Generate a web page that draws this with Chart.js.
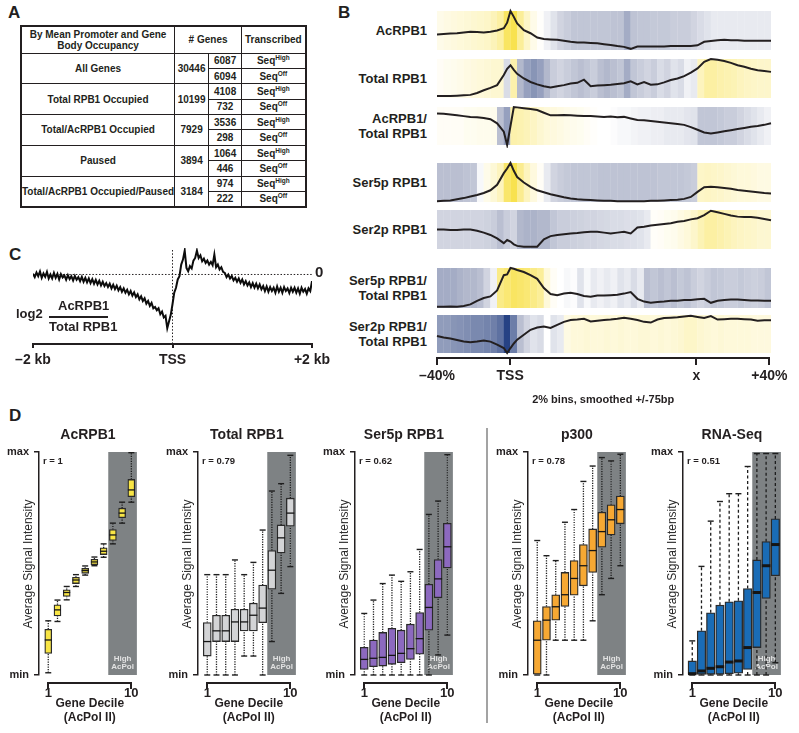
<!DOCTYPE html>
<html lang="en">
<head>
<meta charset="UTF-8">
<title>AcRPB1 / Pol II profiles</title>
<script src="https://cdn.jsdelivr.net/npm/chart.js@4.4.0/dist/chart.umd.min.js"></script>
<style>
  * { box-sizing: border-box; }
  body {
    margin: 0; width: 799px; height: 733px; position: relative; overflow: hidden;
    background: #fff; color: #231f20;
    font-family: "Liberation Sans", Arial, Helvetica, sans-serif; font-weight: bold;
  }
  .txt { position: absolute; white-space: nowrap; line-height: 1.15; }
  .rule { position: absolute; background: #231f20; z-index: 10; }
  .letter { position: absolute; font-size: 17px; }
  canvas { position: absolute; }

  /* ---- panel A table ---- */
  #tbl { position: absolute; left: 20px; top: 25px; border-collapse: collapse; font-size: 10px;
         border: 2px solid #231f20; }
  #tbl th, #tbl td { border: 1.5px solid #231f20; padding: 0; text-align: center;
                     font-weight: bold; white-space: nowrap; line-height: 1.1; }
  #tbl tr.head { height: 27px; }
  #tbl tr.sub { height: 15.4px; }
  #tbl sup { font-size: 6.5px; vertical-align: 4px; line-height: 0; }

  .blabel { position: absolute; display: flex; align-items: center; justify-content: flex-end;
            text-align: right; font-size: 13px; line-height: 15px; }
  .ytitle { position: absolute; width: 170px; text-align: center; font-size: 12px; font-weight: normal;
            color: #2a2a2a; transform: rotate(-90deg); white-space: nowrap; }
</style>
</head>
<body>
<div class="letter" style="left:8px;top:3px">A</div>
<table id="tbl">
  <colgroup><col style="width:153px"><col style="width:34px"><col style="width:33px"><col style="width:64px"></colgroup>
  <tbody id="tblBody">
    <tr class="head"><th>By Mean Promoter and Gene<br>Body Occupancy</th><th colspan="2"># Genes</th><th>Transcribed</th></tr>
  </tbody>
</table>

<div class="letter" style="left:338px;top:3px">B</div>
<div class="letter" style="left:9px;top:245px">C</div>
<div class="letter" style="left:9px;top:406px">D</div>
<div style="position:absolute;left:486px;top:428px;width:1.5px;height:295px;background:#a3a3a3"></div>

<script>
/* ================= DATA ================= */

/* A: gene counts */
var GROUP_NAMES  = ["All Genes", "Total RPB1 Occupied", "Total/AcRPB1 Occupied", "Paused", "Total/AcRPB1 Occupied/Paused"];
var GROUP_TOTALS = [30446, 10199, 7929, 3894, 3184];
var GENES_HIGH   = [6087, 4108, 3536, 1064, 974];
var GENES_OFF    = [6094, 732, 298, 446, 222];

/* B: metagene profiles, x = position (0..100 => -40% .. +40%) */
var B_TICK_POS    = [0, 22, 78, 100];
var B_TICK_LABELS = ["\u201340%", "TSS", "x", "+40%"];
var B_AXIS_TITLE  = "2% bins, smoothed +/-75bp";
var B_LABELS = ["AcRPB1", "Total RPB1", "AcRPB1/<br>Total RPB1", "Ser5p RPB1", "Ser2p RPB1",
                "Ser5p RPB1/<br>Total RPB1", "Ser2p RPB1/<br>Total RPB1"];
var B_LINE_X = [0,2,4,6,8,10,12,14,16,18,20,21,22,23,24,26,28,30,32,34,36,38,40,42,44,46,48,50,
                52,54,56,58,60,62,64,66,68,70,72,74,76,78,80,82,84,86,88,90,92,94,96,98,100];

var LINE_ACRPB1 = [0.40,0.41,0.42,0.43,0.45,0.47,0.46,0.45,0.47,0.50,0.56,0.70,1.00,0.85,
  0.68,0.51,0.43,0.32,0.28,0.27,0.26,0.24,0.21,0.19,0.19,0.18,0.17,0.15,0.13,0.10,0.08,0.03,0.09,0.09,
  0.09,0.09,0.09,0.10,0.10,0.10,0.10,0.12,0.21,0.23,0.25,0.26,0.25,0.25,0.24,0.24,0.24,0.24,0.24];
var LINE_TOTAL = [0.05,0.05,0.05,0.06,0.07,0.08,0.13,0.20,0.26,0.33,0.59,0.75,0.84,0.72,
  0.62,0.50,0.41,0.35,0.30,0.27,0.30,0.33,0.37,0.39,0.47,0.30,0.32,0.33,0.34,0.36,0.38,0.43,0.35,0.41,
  0.34,0.35,0.40,0.46,0.50,0.56,0.65,0.76,0.93,1.00,0.98,0.95,0.90,0.84,0.80,0.75,0.71,0.69,0.67];
var LINE_AC_TOTAL = [0.83,0.82,0.80,0.78,0.76,0.74,0.73,0.71,0.68,0.57,0.35,0.00,0.50,1.00,
  0.99,0.97,0.95,0.92,0.85,0.78,0.78,0.79,0.78,0.77,0.76,0.76,0.75,0.74,0.75,0.73,0.74,0.70,0.66,0.65,
  0.63,0.61,0.59,0.57,0.55,0.53,0.47,0.40,0.33,0.30,0.33,0.36,0.39,0.42,0.45,0.48,0.50,0.53,0.57];
var LINE_SER5 = [0.02,0.03,0.04,0.07,0.10,0.14,0.18,0.23,0.30,0.44,0.74,0.86,1.00,0.80,
  0.64,0.50,0.39,0.30,0.25,0.20,0.16,0.12,0.09,0.07,0.06,0.05,0.04,0.03,0.03,0.02,0.02,0.02,0.02,0.02,
  0.03,0.03,0.04,0.05,0.06,0.08,0.13,0.26,0.38,0.39,0.38,0.36,0.34,0.31,0.29,0.27,0.25,0.23,0.22];
var LINE_SER2 = [0.50,0.50,0.49,0.49,0.50,0.50,0.47,0.42,0.36,0.27,0.15,0.23,0.19,0.12,
  0.08,0.06,0.06,0.06,0.25,0.33,0.36,0.38,0.40,0.41,0.43,0.44,0.44,0.42,0.40,0.42,0.44,0.40,0.55,0.57,
  0.60,0.62,0.64,0.66,0.70,0.72,0.76,0.79,0.87,0.98,0.94,0.90,0.86,0.83,0.82,0.82,0.80,0.77,0.74];
var LINE_SER5_TOTAL = [0.03,0.03,0.04,0.03,0.05,0.09,0.18,0.25,0.29,0.44,0.82,0.84,1.00,0.98,
  0.95,0.90,0.82,0.73,0.50,0.35,0.32,0.36,0.38,0.35,0.30,0.28,0.31,0.31,0.32,0.33,0.36,0.40,0.23,0.16,
  0.13,0.15,0.16,0.18,0.18,0.20,0.20,0.22,0.23,0.13,0.18,0.20,0.21,0.21,0.20,0.19,0.19,0.18,0.18];
var LINE_SER2_TOTAL = [0.45,0.41,0.38,0.34,0.30,0.28,0.30,0.33,0.30,0.22,0.13,0.00,0.13,0.25,
  0.35,0.48,0.61,0.67,0.70,0.66,0.74,0.82,0.87,0.88,0.90,0.83,0.85,0.87,0.88,0.90,0.93,0.90,0.87,0.82,
  0.80,0.88,0.92,0.93,0.94,0.96,0.98,0.95,0.92,0.97,0.88,0.89,0.90,0.90,0.89,0.88,0.85,0.86,0.86];

/* heat strips: 50 bins of 2%, -1 = dark blue, 0 = white, +1 = yellow */
var HEAT_ACRPB1 = [0.12,0.15,0.18,0.2,0.22,0.25,0.27,0.3,0.38,0.5, 0.85,0.95,0.55,0.3,0.12,0.02,-0.1,-0.2,-0.3,-0.35,
  -0.4,-0.4,-0.4,-0.4,-0.4,-0.4,-0.42,-0.42,-0.55,-0.42, -0.4,-0.4,-0.38,-0.38,-0.38,-0.35,-0.35,-0.35,-0.3,-0.25,
  -0.2,-0.15,-0.15,-0.15,-0.15,-0.15,-0.15,-0.15,-0.15,-0.15];
var HEAT_TOTAL = [0.05,0.08,0.1,0.12,0.15,0.18,0.2,0.22,0.25,0.25, -0.25,0.45,-0.5,-0.6,-0.65,-0.6,-0.5,-0.35,-0.3,-0.35,
  -0.4,-0.45,-0.4,-0.35,-0.45,-0.5,-0.45,-0.4,-0.55,-0.4, -0.35,-0.3,-0.35,-0.25,-0.3,-0.2,-0.25,-0.1,-0.15,0.35,
  0.5,0.5,0.45,0.42,0.4,0.35,0.32,0.3,0.28,0.28];
var HEAT_AC_TOTAL = [0.05,0.05,0.05,0.05,0.08,0.08,0.1,0.1,0.1,-0.45, -0.6,0.45,0.42,0.38,0.32,0.25,0.2,0.18,0.15,0.12,
  0.1,0.08,0.05,0.02,0,0,-0.02,-0.05,-0.05,-0.08, -0.1,-0.1,-0.12,-0.12,-0.15,-0.15,-0.15,-0.18,-0.2,-0.4,
  -0.4,-0.4,-0.38,-0.35,-0.35,-0.3,-0.25,-0.2,-0.15,-0.1];
var HEAT_SER5 = [-0.45,-0.45,-0.45,-0.45,-0.42,-0.4,-0.05,0.12,0.22,0.35, 0.8,0.95,0.6,0.35,0.18,0.05,-0.15,-0.3,-0.35,-0.38,
  -0.4,-0.4,-0.4,-0.4,-0.42,-0.42,-0.42,-0.42,-0.42,-0.42, -0.42,-0.42,-0.42,-0.4,-0.4,-0.4,-0.4,-0.38,-0.35,0.3,
  0.32,0.3,0.28,0.25,0.22,0.2,0.2,0.18,0.15,0.15];
var HEAT_SER2 = [-0.3,-0.3,-0.3,-0.3,-0.3,-0.3,-0.3,-0.32,-0.35,-0.45, -0.35,-0.3,-0.5,-0.52,-0.52,-0.5,-0.5,-0.4,-0.35,-0.35,
  -0.33,-0.32,-0.3,-0.3,-0.28,-0.27,-0.25,-0.25,-0.23,-0.22, -0.2,-0.15,0.03,0.05,0.08,0.1,0.15,0.2,0.28,0.4,
  0.5,0.5,0.45,0.4,0.35,0.32,0.3,0.28,0.25,0.25];
var HEAT_SER5_TOTAL = [-0.55,-0.55,-0.55,-0.52,-0.5,-0.5,-0.45,-0.3,-0.1,0.65, 0.75,0.85,0.8,0.75,0.65,0.55,0.2,0.05,0,-0.05,
  -0.02,-0.2,-0.05,-0.15,-0.1,-0.15,-0.1,-0.2,-0.15,-0.25, -0.15,-0.45,-0.4,-0.45,-0.4,-0.45,-0.38,-0.42,-0.35,-0.3,
  -0.35,-0.4,-0.38,-0.35,-0.35,-0.38,-0.35,-0.33,-0.35,-0.4];
var HEAT_SER2_TOTAL = [-0.62,-0.62,-0.65,-0.66,-0.68,-0.7,-0.7,-0.72,-0.74,-0.8, -1.0,-0.75,-0.45,-0.3,-0.2,-0.25,0,-0.2,-0.15,0.15,
  0.2,0.2,0.22,0.2,0.2,0.22,0.2,0.22,0.2,0.2, 0.22,0.22,0.2,0.22,0.2,0.22,0.25,0.3,0.3,0.25,
  0.22,0.2,0.22,0.2,0.2,0.2,0.2,0.18,0.18,0.18];

/* C: log2(AcRPB1 / Total RPB1), 25 bp steps from -2 kb to +2 kb */
var C_START_BP = -2000, C_STEP_BP = 25;
var C_TICK_POS    = [-2000, 0, 2000];
var C_TICK_LABELS = ["\u20132 kb", "TSS", "+2 kb"];
var C_LOG2 = [
  0.02,-0.08,0.06,-0.05,0.09,-0.1,0.03,-0.07,0.08,-0.12,
  0.0,-0.12,0.05,-0.1,0.02,-0.15,0.01,-0.09,-0.03,-0.16,
  -0.02,-0.14,-0.05,-0.18,-0.04,-0.16,-0.08,-0.2,-0.07,-0.22,
  -0.1,-0.24,-0.12,-0.26,-0.14,-0.28,-0.16,-0.3,-0.19,-0.33,
  -0.22,-0.35,-0.26,-0.38,-0.28,-0.42,-0.31,-0.44,-0.34,-0.48,
  -0.38,-0.52,-0.42,-0.55,-0.46,-0.6,-0.5,-0.64,-0.54,-0.68,
  -0.6,-0.75,-0.66,-0.8,-0.72,-0.88,-0.8,-0.95,-0.86,-1.02,
  -0.98,-1.08,-1.02,-1.2,-1.12,-1.3,-1.25,-1.62,-1.42,-1.22,
  -0.9,-0.55,-0.4,-0.15,-0.05,0.3,0.45,0.72,0.2,0.1,
  0.25,0.18,0.42,0.5,0.72,0.5,0.58,0.4,0.48,0.35,
  0.42,0.3,0.38,0.28,0.6,0.22,0.3,0.15,0.22,0.08,
  0.05,-0.08,0.0,-0.12,-0.05,-0.18,-0.1,-0.22,-0.12,-0.25,
  -0.15,-0.3,-0.2,-0.33,-0.24,-0.38,-0.26,-0.4,-0.28,-0.42,
  -0.3,-0.45,-0.35,-0.5,-0.36,-0.52,-0.38,-0.5,-0.4,-0.55,
  -0.36,-0.52,-0.4,-0.55,-0.38,-0.5,-0.42,-0.56,-0.4,-0.52,
  -0.4,-0.55,-0.42,-0.58,-0.4,-0.52,-0.44,-0.58,-0.42,-0.5,
  -0.2];

/* D: box plots per AcPol II gene decile (0 = min, 100 = max) */
var DECILES = [1,2,3,4,5,6,7,8,9,10];
var D_X_TICKS = [1, 10];
var D_Y_TICKS = [0, 100];
var D_Y_LABELS = ["min", "max"];
var HIGH_FROM = 7.5;

var ACRPB1_LOW  = [1,24,33.7,39.7,44.8,49,52.8,58.8,68.1,77.5];
var ACRPB1_Q1   = [9.7,26.5,35.2,41,45.6,49.5,54,60.3,70.5,80];
var ACRPB1_MED  = [15.7,29.2,37,42.6,46.8,50.7,55.5,62.8,72.6,83];
var ACRPB1_Q3   = [20.5,31.5,38.2,43.8,47.8,51.9,57,65.2,74.8,87.7];
var ACRPB1_HIGH = [24.3,33.6,39.7,45,48.9,52.9,58.8,68.1,77.5,99.7];

var TOTAL_LOW  = [0,0,0,0,8.5,8.5,0,15,36.6,48.6];
var TOTAL_Q1   = [8.5,15,15,15,19.8,19.8,23.5,38.5,54.7,66.7];
var TOTAL_MED  = [15,19.8,19.8,23.8,23.8,26.8,30,47,61.5,72.6];
var TOTAL_Q3   = [23.5,26.8,26.8,29.5,29.5,32.2,40.3,55.8,67.3,79.3];
var TOTAL_HIGH = [45,45,45,51.6,45,50.5,65,82.5,85.8,98.5];

var SER5_LOW  = [0,0,0,0,0,0,0,0,9,17.9];
var SER5_Q1   = [2.5,3.7,4,4.8,5.5,7,9.3,20.1,34.6,48];
var SER5_MED  = [7,7.5,7.9,8.8,9.7,11.8,16.3,30.3,43.1,57.5];
var SER5_Q3   = [12.4,15.7,19.1,20.9,20.1,22.8,28,40.7,51.8,68];
var SER5_HIGH = [27.6,33.6,41,44.8,42,46.3,56.3,72,78,98.8];

var P300_LOW  = [0,0,15.6,15.6,15.6,15.6,24.3,36,43.3,49];
var P300_Q1   = [0,15.6,24.6,30.7,35.8,40,46,57.3,62.8,67.8];
var P300_MED  = [15.6,24.6,30.6,36,43.3,49,55.8,64.3,69.6,74.2];
var P300_Q3   = [24.3,30.7,36,46,51.3,58.5,65.5,73,76.3,80.2];
var P300_HIGH = [60.3,53.5,51.3,68.5,74.2,86.8,93.7,97.5,96,99];

var RNA_LOW  = [0,0,0,0,0,0,0,0,0,5.5];
var RNA_Q1   = [0,0.3,0.3,0.3,0.6,0.8,2.5,12.3,34.3,44.5];
var RNA_MED  = [0.6,1.8,3,3.7,5.8,6.3,12.3,37,49,58.5];
var RNA_Q3   = [6.3,19.8,27.9,31.3,32.8,33.3,38.8,51.6,59.8,70];
var RNA_HIGH = [15.3,48.7,69,77.8,81.3,81.3,93.5,99.3,99.3,99.3];

var D_TITLES = ["AcRPB1", "Total RPB1", "Ser5p RPB1", "p300", "RNA-Seq"];
var D_R      = ["r = 1", "r = 0.79", "r = 0.62", "r = 0.78", "r = 0.51"];

/* ================= HELPERS ================= */
var INK = "#231f20";
var FONT = "'Liberation Sans', Arial, Helvetica, sans-serif";
Chart.defaults.font.family = FONT;
Chart.defaults.font.weight = "bold";
Chart.defaults.color = INK;
Chart.defaults.animation = false;
Chart.defaults.responsive = false;
Chart.defaults.events = [];
Chart.defaults.plugins.legend.display = false;
Chart.defaults.plugins.tooltip.enabled = false;

function addCanvas(left, top, w, h) {
  var c = document.createElement("canvas");
  c.width = w; c.height = h;
  c.style.left = left + "px"; c.style.top = top + "px";
  c.style.width = w + "px"; c.style.height = h + "px";
  document.body.appendChild(c);
  return c;
}
function addText(html, cls, css) {
  var d = document.createElement("div");
  d.className = cls; d.innerHTML = html; d.style.cssText = css;
  document.body.appendChild(d);
  return d;
}
/* axis rules placed from the chart's own scale pixels (whole pixels, above the canvases) */
function rule(x, y, w, h) {
  addText("", "rule", "left:" + Math.round(x) + "px;top:" + Math.round(y) + "px;width:" +
    Math.max(1, Math.round(w)) + "px;height:" + Math.max(1, Math.round(h)) + "px");
}
function axisRules(chart, ox, oy, ticks, tickDown) {
  var a = chart.chartArea, sx = chart.scales.x, y = oy + a.bottom;
  rule(ox + a.left - 1, y - 1, a.right - a.left + 2, 2);
  ticks.forEach(function (v) { rule(ox + sx.getPixelForValue(v) - 1, y, 2, tickDown); });
}
function mix(a, b, t) { return a.map(function (v, i) { return v + (b[i] - v) * t; }); }
function heatColor(v) {
  var W = [255,255,255], Y = [248,224,70], G = [178,184,204], N = [38,66,132], c;
  if (v >= 0) c = mix(W, Y, Math.min(v, 1));
  else if (v > -0.5) c = mix(W, G, -v / 0.5);
  else c = mix(G, N, Math.min((-v - 0.5) / 0.5, 1));
  return "rgb(" + c.map(Math.round).join(",") + ")";
}

/* ================= PANEL A ================= */
var tbody = document.getElementById("tblBody");
GROUP_NAMES.forEach(function (name, i) {
  tbody.insertAdjacentHTML("beforeend",
    '<tr class="sub"><td rowspan="2">' + name + '</td><td rowspan="2">' + GROUP_TOTALS[i] +
    '</td><td>' + GENES_HIGH[i] + '</td><td>Seq<sup>High</sup></td></tr>' +
    '<tr class="sub"><td>' + GENES_OFF[i] + '</td><td>Seq<sup>Off</sup></td></tr>');
});

/* ================= PANEL B ================= */
var B_LEFT = 437, B_WIDTH = 334;
var B_ROW_TOP = [11, 59, 107, 163, 210, 268, 315];
var B_ROW_H   = [39, 39, 38, 39, 39, 40, 38];
var B_LINES = [LINE_ACRPB1, LINE_TOTAL, LINE_AC_TOTAL, LINE_SER5, LINE_SER2, LINE_SER5_TOTAL, LINE_SER2_TOTAL];
var B_HEATS = [HEAT_ACRPB1, HEAT_TOTAL, HEAT_AC_TOTAL, HEAT_SER5, HEAT_SER2, HEAT_SER5_TOTAL, HEAT_SER2_TOTAL];

B_LINES.forEach(function (line, r) {
  var heat = B_HEATS[r];
  addText(B_LABELS[r], "blabel",
    "left:300px;width:127px;top:" + B_ROW_TOP[r] + "px;height:" + B_ROW_H[r] + "px");
  var cv = addCanvas(B_LEFT - 3, B_ROW_TOP[r] - 3, B_WIDTH + 6, B_ROW_H[r] + 6);
  new Chart(cv, {
    type: "bar",
    data: {
      datasets: [
        { type: "line", data: B_LINE_X.map(function (x, i) { return { x: x, y: line[i] }; }),
          borderColor: INK, borderWidth: 2, pointRadius: 0, tension: 0, clip: false },
        { type: "bar", data: heat.map(function (v, i) { return { x: i * 2 + 1, y: [0, 1] }; }),
          backgroundColor: heat.map(heatColor), borderWidth: 0,
          barPercentage: 1.04, categoryPercentage: 1 }
      ]
    },
    options: {
      layout: { padding: 3 },
      scales: {
        x: { type: "linear", min: 0, max: 100, display: false, offset: false },
        y: { min: 0, max: 1, display: false }
      }
    }
  });
});

/* B axis (chart area is empty; its bottom edge is the axis line at y = 358) */
var B_AX_LEFT = B_LEFT - 30, B_AX_TOP = 297;
var bAxis = new Chart(addCanvas(B_AX_LEFT, B_AX_TOP, B_WIDTH + 56, 110), {
  type: "line",
  data: { datasets: [] },
  options: {
    layout: { padding: { left: 30, right: 26, top: 0, bottom: 0 } },
    scales: {
      x: { type: "linear", min: 0, max: 100,
        afterBuildTicks: function (ax) { ax.ticks = B_TICK_POS.map(function (v) { return { value: v }; }); },
        ticks: { autoSkip: false, maxRotation: 0, padding: 9.5, font: { size: 14, weight: "bold" },
                 callback: function (v) { return B_TICK_LABELS[B_TICK_POS.indexOf(v)]; } },
        grid: { display: false, drawTicks: false },
        border: { display: false },
        title: { display: true, text: B_AXIS_TITLE, font: { size: 11, weight: "bold" }, padding: 0 } },
      y: { display: false, min: 0, max: 1 }
    }
  }
});
axisRules(bAxis, B_AX_LEFT, B_AX_TOP, B_TICK_POS, 7);

/* ================= PANEL C ================= */
var cRefLines = {
  id: "cRefLines",
  beforeDatasetsDraw: function (chart) {
    var ctx = chart.ctx, a = chart.chartArea, x = chart.scales.x, y = chart.scales.y;
    ctx.save();
    ctx.strokeStyle = INK; ctx.lineWidth = 1; ctx.setLineDash([1.5, 1.8]);
    var y0 = y.getPixelForValue(0), x0 = x.getPixelForValue(0);
    ctx.beginPath(); ctx.moveTo(a.left, y0); ctx.lineTo(a.right, y0); ctx.stroke();
    ctx.beginPath(); ctx.moveTo(x0, a.top + 2); ctx.lineTo(x0, a.bottom - 1); ctx.stroke();
    ctx.restore();
  }
};
var C_LEFT = 6, C_TOP = 240;
var cChart = new Chart(addCanvas(C_LEFT, C_TOP, 332, 136), {
  type: "line",
  data: { datasets: [{
    data: C_LOG2.map(function (v, i) { return { x: C_START_BP + i * C_STEP_BP, y: v }; }),
    borderColor: "#0c0c0c", borderWidth: 2, pointRadius: 0, tension: 0 }] },
  options: {
    layout: { padding: { left: 27, right: 26, top: 8, bottom: 0 } },
    scales: {
      x: { type: "linear", min: -2000, max: 2000,
        afterBuildTicks: function (ax) { ax.ticks = C_TICK_POS.map(function (v) { return { value: v }; }); },
        ticks: { autoSkip: false, maxRotation: 0, padding: 7.6, font: { size: 14, weight: "bold" },
                 callback: function (v) { return C_TICK_LABELS[C_TICK_POS.indexOf(v)]; } },
        grid: { display: false, drawTicks: false },
        border: { display: false } },
      y: { display: false, min: -2.1, max: 0.8 }
    }
  },
  plugins: [cRefLines]
});
axisRules(cChart, C_LEFT, C_TOP, C_TICK_POS, 4);
addText("0", "txt", "left:315px;top:263px;font-size:15px");
addText("log2", "txt", "left:16px;top:307px;font-size:13px");
addText("AcRPB1", "txt", "left:58px;top:299px;width:50px;text-align:center;font-size:13px");
rule(49, 316, 59, 2);
addText("Total RPB1", "txt", "left:49px;top:320px;font-size:13px");

/* ================= PANEL D ================= */
var D_PANELS = [
  { low: ACRPB1_LOW, q1: ACRPB1_Q1, med: ACRPB1_MED, q3: ACRPB1_Q3, high: ACRPB1_HIGH, fill: "#f8e545", dash: [1.2, 1.3], medW: 1.3, boxW: 7 },
  { low: TOTAL_LOW,  q1: TOTAL_Q1,  med: TOTAL_MED,  q3: TOTAL_Q3,  high: TOTAL_HIGH,  fill: "#d3d4d6", dash: [1.2, 1.3], medW: 1.3, boxW: 8 },
  { low: SER5_LOW,   q1: SER5_Q1,   med: SER5_MED,   q3: SER5_Q3,   high: SER5_HIGH,   fill: "#8c69bf", dash: [1.2, 1.3], medW: 1.3, boxW: 8 },
  { low: P300_LOW,   q1: P300_Q1,   med: P300_MED,   q3: P300_Q3,   high: P300_HIGH,   fill: "#f6a833", dash: [1.2, 1.3], medW: 1.3, boxW: 8 },
  { low: RNA_LOW,    q1: RNA_Q1,    med: RNA_MED,    q3: RNA_Q3,    high: RNA_HIGH,    fill: "#1a6cb6", dash: [3, 2.5],   medW: 3,   boxW: 8.5 }
];
var D_AXIS_X = [39, 198, 355, 528, 683];
var D_TOP = 440;

function boxPlugin(p) {
  function seg(ctx, x1, y1, x2, y2) { ctx.beginPath(); ctx.moveTo(x1, y1); ctx.lineTo(x2, y2); ctx.stroke(); }
  return {
    id: "boxes",
    beforeDatasetsDraw: function (chart) {
      var ctx = chart.ctx, a = chart.chartArea, x = chart.scales.x, y = chart.scales.y;
      var bx = x.getPixelForValue(HIGH_FROM);
      ctx.save();
      ctx.fillStyle = "#7e8284";
      ctx.fillRect(bx, a.top, a.right - bx, a.bottom - a.top);
      ctx.fillStyle = "#e2e2e2";
      ctx.font = "bold 8px " + FONT;
      ctx.textAlign = "center"; ctx.textBaseline = "middle";
      ctx.fillText("High", (bx + a.right) / 2, a.bottom - 16);
      ctx.fillText("AcPol", (bx + a.right) / 2, a.bottom - 8);
      ctx.strokeStyle = "#1e1e1e";
      DECILES.forEach(function (d, i) {
        var px = x.getPixelForValue(d);
        var yl = y.getPixelForValue(p.low[i]), yh = y.getPixelForValue(p.high[i]);
        ctx.lineWidth = 1.3; ctx.setLineDash(p.dash);
        seg(ctx, px, yl, px, y.getPixelForValue(p.q1[i]));
        seg(ctx, px, y.getPixelForValue(p.q3[i]), px, yh);
        ctx.setLineDash([]); ctx.lineWidth = 1.4;
        seg(ctx, px - 3, yl, px + 3, yl);
        seg(ctx, px - 3, yh, px + 3, yh);
      });
      ctx.restore();
    },
    afterDatasetsDraw: function (chart) {
      var ctx = chart.ctx, x = chart.scales.x, y = chart.scales.y;
      ctx.save();
      ctx.strokeStyle = "#151515"; ctx.lineWidth = p.medW;
      DECILES.forEach(function (d, i) {
        var px = x.getPixelForValue(d), py = y.getPixelForValue(p.med[i]);
        seg(ctx, px - p.boxW / 2, py, px + p.boxW / 2, py);
      });
      ctx.restore();
    }
  };
}

D_PANELS.forEach(function (p, k) {
  var left = D_AXIS_X[k] - 38;
  var cv = addCanvas(left, D_TOP, 148, 273);
  var chart = new Chart(cv, {
    type: "bar",
    data: { datasets: [{
      data: DECILES.map(function (d, i) { return { x: d, y: [p.q1[i], p.q3[i]] }; }),
      backgroundColor: p.fill, borderColor: "#2a2a2a", borderWidth: 1.3, borderSkipped: false,
      barThickness: p.boxW }] },
    options: {
      layout: { padding: { left: 1, right: 4, top: 12, bottom: 2 } },
      scales: {
        x: { type: "linear", min: 0, max: 10.6, offset: false,
          afterBuildTicks: function (ax) { ax.ticks = D_X_TICKS.map(function (v) { return { value: v }; }); },
          ticks: { autoSkip: false, maxRotation: 0, padding: 10.2, font: { size: 13, weight: "bold" },
                   callback: function (v) { return String(v); } },
          grid: { display: false, drawTicks: false },
          border: { display: false } },
        y: { min: 0, max: 100,
          afterBuildTicks: function (ax) { ax.ticks = D_Y_TICKS.map(function (v) { return { value: v }; }); },
          ticks: { padding: 5, font: { size: 11, weight: "bold" },
                   callback: function (v) { return D_Y_LABELS[D_Y_TICKS.indexOf(v)]; } },
          grid: { drawOnChartArea: false, tickLength: 5, color: INK, lineWidth: 1.5 },
          border: { color: INK, width: 1.5 } }
      }
    },
    plugins: [boxPlugin(p)]
  });
  var a = chart.chartArea, sx = chart.scales.x;
  var cx = left + (a.left + a.right) / 2;
  var cy = D_TOP + (a.top + a.bottom) / 2;
  var x1 = left + sx.getPixelForValue(D_X_TICKS[0]), x2 = left + sx.getPixelForValue(D_X_TICKS[1]);
  var yb = D_TOP + a.bottom + 8;
  /* x bracket from decile 1 to decile 10 */
  rule(x1 - 1, yb - 1, x2 - x1 + 2, 2);
  rule(x1 - 1, yb, 2, 6);
  rule(x2 - 1, yb, 2, 6);
  addText(D_TITLES[k], "txt", "left:" + (cx - 60) + "px;width:120px;text-align:center;top:426px;font-size:14px");
  addText(D_R[k], "txt", "left:" + (left + a.left + 4) + "px;top:" + (D_TOP + a.top + 4) + "px;font-size:9.5px");
  addText("Average Signal Intensity", "ytitle", "left:" + (left + a.left - 11.5 - 85) + "px;top:" + (cy - 7) + "px");
  addText("Gene Decile<br>(AcPol II)", "txt",
    "left:" + ((x1 + x2) / 2 - 50) + "px;width:100px;text-align:center;top:" + (yb + 13) + "px;font-size:12px;line-height:14px");
});
</script>
</body>
</html>
